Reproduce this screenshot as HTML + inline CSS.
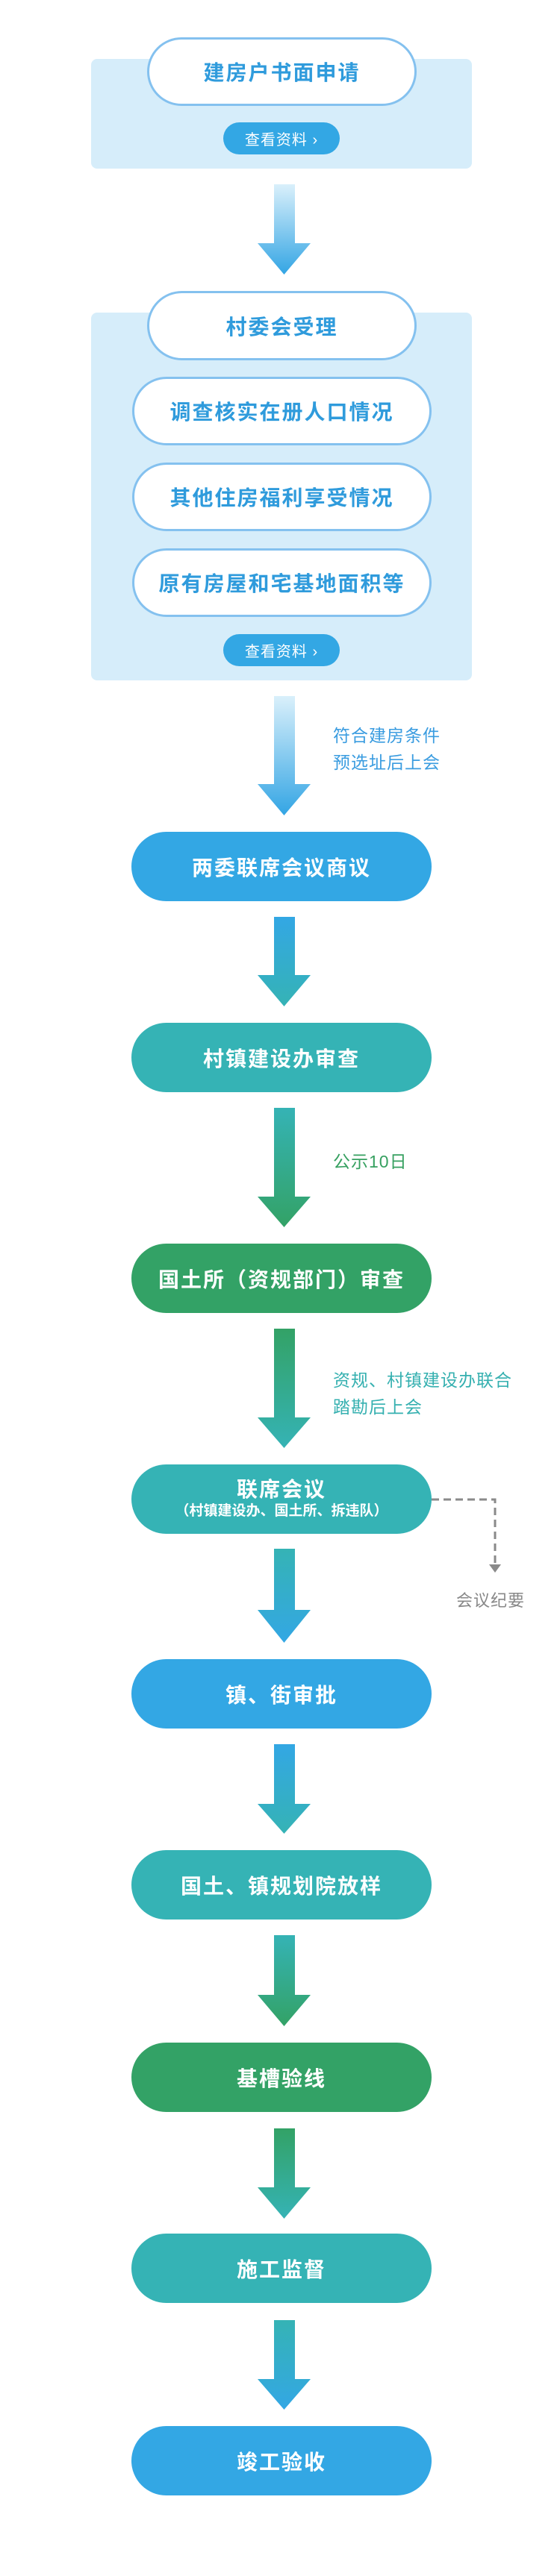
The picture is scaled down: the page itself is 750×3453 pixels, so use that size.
<!DOCTYPE html>
<html><head><meta charset="utf-8"><style>
*{margin:0;padding:0;box-sizing:border-box}
body{width:750px;height:3453px;background:#fff;position:relative;font-family:"Liberation Sans","Noto Sans CJK SC",sans-serif;overflow:hidden}
.a{position:absolute}
.panel{position:absolute;left:122px;width:510px;background:#d6edfa;border-radius:8px}
.op{position:absolute;background:#fff;border:3px solid #84c1ef;border-radius:50px;color:#2f9bdc;font-weight:bold;font-size:28px;letter-spacing:2px;display:flex;align-items:center;justify-content:center}
.btn{position:absolute;left:299px;width:156px;height:43px;border-radius:22px;background:#33a7e4;color:#fff;font-size:20px;display:flex;align-items:center;justify-content:center;letter-spacing:1px}
.mp{position:absolute;left:176px;width:402px;height:93px;border-radius:47px;color:#fff;font-weight:bold;font-size:28px;letter-spacing:2px;display:flex;flex-direction:column;align-items:center;justify-content:center}
.b{background:#33a7e4}.t{background:#35b3b5}.g{background:#33a266}
.lbl{position:absolute;left:446px;font-size:23px;line-height:36px;letter-spacing:1px}
</style></head><body>
<svg width="0" height="0" style="position:absolute"><defs>
<linearGradient id="g0" x1="0" y1="0" x2="0" y2="1"><stop offset="0" stop-color="#daf0fb"/><stop offset="1" stop-color="#33a5e4"/></linearGradient>
<linearGradient id="g1" x1="0" y1="0" x2="0" y2="1"><stop offset="0" stop-color="#33a7e4"/><stop offset="1" stop-color="#35b3b5"/></linearGradient>
<linearGradient id="g2" x1="0" y1="0" x2="0" y2="1"><stop offset="0" stop-color="#35b3b5"/><stop offset="1" stop-color="#33a266"/></linearGradient>
<linearGradient id="g3" x1="0" y1="0" x2="0" y2="1"><stop offset="0" stop-color="#33a266"/><stop offset="1" stop-color="#35b3b5"/></linearGradient>
<linearGradient id="g4" x1="0" y1="0" x2="0" y2="1"><stop offset="0" stop-color="#35b3b5"/><stop offset="1" stop-color="#33a7e4"/></linearGradient>
</defs></svg>

<div class="panel" style="top:79px;height:147px"></div>
<div class="op" style="left:197px;width:361px;top:50px;height:92px">建房户书面申请</div>
<div class="btn" style="top:164px">查看资料 ›</div>

<svg class="a" style="left:345px;top:247px" width="71" height="121"><path d="M22 0H50V79H71L35.5 121L0 79H22Z" fill="url(#g0)"/></svg>

<div class="panel" style="top:419px;height:493px"></div>
<div class="op" style="left:197px;width:361px;top:390px;height:93px">村委会受理</div>
<div class="op" style="left:177px;width:401px;top:505px;height:92px">调查核实在册人口情况</div>
<div class="op" style="left:177px;width:401px;top:620px;height:92px">其他住房福利享受情况</div>
<div class="op" style="left:177px;width:401px;top:735px;height:92px">原有房屋和宅基地面积等</div>
<div class="btn" style="top:850px">查看资料 ›</div>

<svg class="a" style="left:345px;top:933px" width="71" height="160"><path d="M22 0H50V118H71L35.5 160L0 118H22Z" fill="url(#g0)"/></svg>
<div class="lbl" style="top:968px;color:#3a9ce0">符合建房条件<br>预选址后上会</div>

<div class="mp b" style="top:1115px">两委联席会议商议</div>
<svg class="a" style="left:345px;top:1229px" width="71" height="120"><path d="M22 0H50V78H71L35.5 120L0 78H22Z" fill="url(#g1)"/></svg>
<div class="mp t" style="top:1371px">村镇建设办审查</div>
<svg class="a" style="left:345px;top:1485px" width="71" height="160"><path d="M22 0H50V119H71L35.5 160L0 119H22Z" fill="url(#g2)"/></svg>
<div class="lbl" style="top:1539px;color:#36a060">公示10日</div>
<div class="mp g" style="top:1667px">国土所（资规部门）审查</div>
<svg class="a" style="left:345px;top:1781px" width="71" height="160"><path d="M22 0H50V119H71L35.5 160L0 119H22Z" fill="url(#g3)"/></svg>
<div class="lbl" style="top:1832px;color:#35b0b0">资规、村镇建设办联合<br>踏勘后上会</div>
<div class="mp t" style="top:1963px"><div style="line-height:32px">联席会议</div><div style="font-size:19px;font-weight:bold;letter-spacing:0;line-height:26px">（村镇建设办、国土所、拆违队）</div></div>
<svg class="a" style="left:578px;top:2005px" width="100" height="110"><path d="M0 5H85V92" fill="none" stroke="#8a8a8a" stroke-width="3" stroke-dasharray="10 6"/><path d="M77 92H93L85 103Z" fill="#8a8a8a"/></svg>
<div class="a" style="left:611px;top:2128px;font-size:22px;color:#888;letter-spacing:1px">会议纪要</div>
<svg class="a" style="left:345px;top:2076px" width="71" height="126"><path d="M22 0H50V82H71L35.5 126L0 82H22Z" fill="url(#g4)"/></svg>
<div class="mp b" style="top:2224px">镇、街审批</div>
<svg class="a" style="left:345px;top:2338px" width="71" height="120"><path d="M22 0H50V80H71L35.5 120L0 80H22Z" fill="url(#g1)"/></svg>
<div class="mp t" style="top:2480px">国土、镇规划院放样</div>
<svg class="a" style="left:345px;top:2594px" width="71" height="122"><path d="M22 0H50V80H71L35.5 122L0 80H22Z" fill="url(#g2)"/></svg>
<div class="mp g" style="top:2738px">基槽验线</div>
<svg class="a" style="left:345px;top:2853px" width="71" height="121"><path d="M22 0H50V79H71L35.5 121L0 79H22Z" fill="url(#g3)"/></svg>
<div class="mp t" style="top:2994px">施工监督</div>
<svg class="a" style="left:345px;top:3110px" width="71" height="120"><path d="M22 0H50V79H71L35.5 120L0 79H22Z" fill="url(#g4)"/></svg>
<div class="mp b" style="top:3252px">竣工验收</div>
</body></html>
